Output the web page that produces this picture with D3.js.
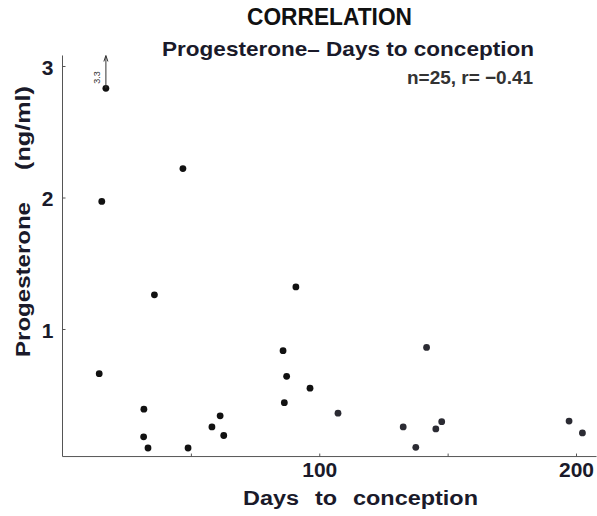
<!DOCTYPE html>
<html>
<head>
<meta charset="utf-8">
<script src="https://cdn.jsdelivr.net/npm/d3@7"></script>
<style>
  html, body { margin: 0; padding: 0; background: #fff; }
  svg { display: block; }
</style>
</head>
<body>
<svg id="chart" width="597" height="516"></svg>
<script>
// ---- data ----
const days = [16.9, 15.3, 46.9, 14.3, 35.8, 31.7, 31.6, 33.3, 48.9, 58.2, 61.4, 62.8,
              85.9, 87.3, 86.4, 90.9, 96.4, 107.3, 132.7, 137.6, 141.8, 145.4, 147.7, 197.3, 202.5];
const progesterone = [2.83, 1.97, 2.22, 0.66, 1.26, 0.39, 0.18, 0.095, 0.095, 0.255, 0.34, 0.19,
              0.835, 0.64, 0.44, 1.32, 0.55, 0.36, 0.255, 0.10, 0.86, 0.24, 0.295, 0.30, 0.21];
const offScaleIndex = [0];          // point whose true value exceeds the plotted range
const offScaleLabel = ["3.3"];
const xTicks = [50, 100, 150, 200];
const xTickLabels = ["", "100", "", "200"];
const yTicks = [1, 2, 3];
const yTickLabels = ["1", "2", "3"];
const titleText = "CORRELATION";
const subtitleText = "Progesterone\u2013 Days to conception";
const statText = "n=25, r= \u22120.41";

// ---- layout ----
const svg = d3.select("#chart");
const x = d3.scaleLinear().domain([0, 200]).range([62.5, 576]);
const y = d3.scaleLinear().domain([1, 3]).range([329, 66]);
const xMin = 0, xMax = 208, yMin = 0.03, yMax = 3.08;
const axisColor = "#555";
const font = "'Liberation Sans', Arial, Helvetica, sans-serif";

// axes lines
svg.append("line")
  .attr("x1", x(xMin)).attr("x2", x(xMin))
  .attr("y1", y(yMin)).attr("y2", y(yMax))
  .attr("stroke", axisColor).attr("stroke-width", 1);
svg.append("line")
  .attr("x1", x(xMin)).attr("x2", x(xMax))
  .attr("y1", y(yMin)).attr("y2", y(yMin))
  .attr("stroke", axisColor).attr("stroke-width", 1);

// y axis ticks (inward) + labels
const yAxis = d3.axisLeft(y).tickValues(yTicks).tickSize(-3).tickPadding(9)
  .tickFormat((d, i) => yTickLabels[i]);
const gy = svg.append("g").attr("transform", `translate(${x(xMin)},0)`).call(yAxis);
gy.select(".domain").remove();
gy.selectAll(".tick line").attr("stroke", axisColor);
gy.selectAll(".tick text")
  .attr("font-family", font).attr("font-weight", "bold").attr("font-size", 21)
  .attr("fill", "#1a1a2a").attr("dy", "0.4em");

// x axis ticks (inward) + labels
const xAxis = d3.axisBottom(x).tickValues(xTicks).tickSize(-3).tickPadding(6)
  .tickFormat((d, i) => xTickLabels[i]);
const gx = svg.append("g").attr("transform", `translate(0,${y(yMin)})`).call(xAxis);
gx.select(".domain").remove();
gx.selectAll(".tick line").attr("stroke", axisColor);
gx.selectAll(".tick text")
  .attr("font-family", font).attr("font-weight", "bold").attr("font-size", 21)
  .attr("fill", "#1a1a2a");

// points
svg.append("g").selectAll("circle")
  .data(days.map((d, i) => ({ d, p: progesterone[i], i })))
  .join("circle")
  .attr("cx", o => x(o.d))
  .attr("cy", o => y(o.p))
  .attr("r", 3.4)
  .attr("fill", o => o.d > 100 ? "#2b2b33" : "#111");

// off-scale arrow
offScaleIndex.forEach((idx, k) => {
  const px = x(days[idx]);
  svg.append("line")
    .attr("x1", px).attr("x2", px)
    .attr("y1", y(progesterone[idx])).attr("y2", y(yMax) + 1)
    .attr("stroke", "#333").attr("stroke-width", 1);
  svg.append("path")
    .attr("d", `M${px - 2},${y(yMax) + 6} L${px},${y(yMax)} L${px + 2},${y(yMax) + 6}`)
    .attr("fill", "none").attr("stroke", "#333").attr("stroke-width", 1);
  svg.append("text")
    .attr("transform", `translate(${px - 6},${y(yMax) + 22}) rotate(-90)`)
    .attr("text-anchor", "middle")
    .attr("font-family", font).attr("font-size", 9).attr("fill", "#333")
    .text(offScaleLabel[k]);
});

// helper: text fitted to a given width
function fitText(sel, w) {
  sel.attr("textLength", w).attr("lengthAdjust", "spacingAndGlyphs");
  return sel;
}

// titles
fitText(svg.append("text").attr("x", 247).attr("y", 25)
  .attr("font-family", font).attr("font-weight", "bold").attr("font-size", 23)
  .attr("fill", "#111").text(titleText), 165);
fitText(svg.append("text").attr("x", 162).attr("y", 56)
  .attr("font-family", font).attr("font-weight", "bold").attr("font-size", 21)
  .attr("fill", "#1a1a2a").text(subtitleText), 372);
fitText(svg.append("text").attr("x", 407).attr("y", 84)
  .attr("font-family", font)
  .attr("font-weight", "bold").attr("font-size", 19)
  .attr("fill", "#333").text(statText), 126);

// axis titles
fitText(svg.append("text").attr("x", 243).attr("y", 505)
  .attr("font-family", font).attr("font-weight", "bold").attr("font-size", 20)
  .attr("word-spacing", 8)
  .attr("fill", "#1a1a2a").text("Days to conception"), 235);
fitText(svg.append("text")
  .attr("transform", "translate(30,357) rotate(-90)")
  .attr("font-family", font).attr("font-weight", "bold").attr("font-size", 20)
  .attr("fill", "#1a1a2a").text("Progesterone"), 155);
fitText(svg.append("text")
  .attr("transform", "translate(30,170) rotate(-90)")
  .attr("font-family", font).attr("font-weight", "bold").attr("font-size", 20)
  .attr("fill", "#1a1a2a").text("(ng/ml)"), 84);
</script>
</body>
</html>
